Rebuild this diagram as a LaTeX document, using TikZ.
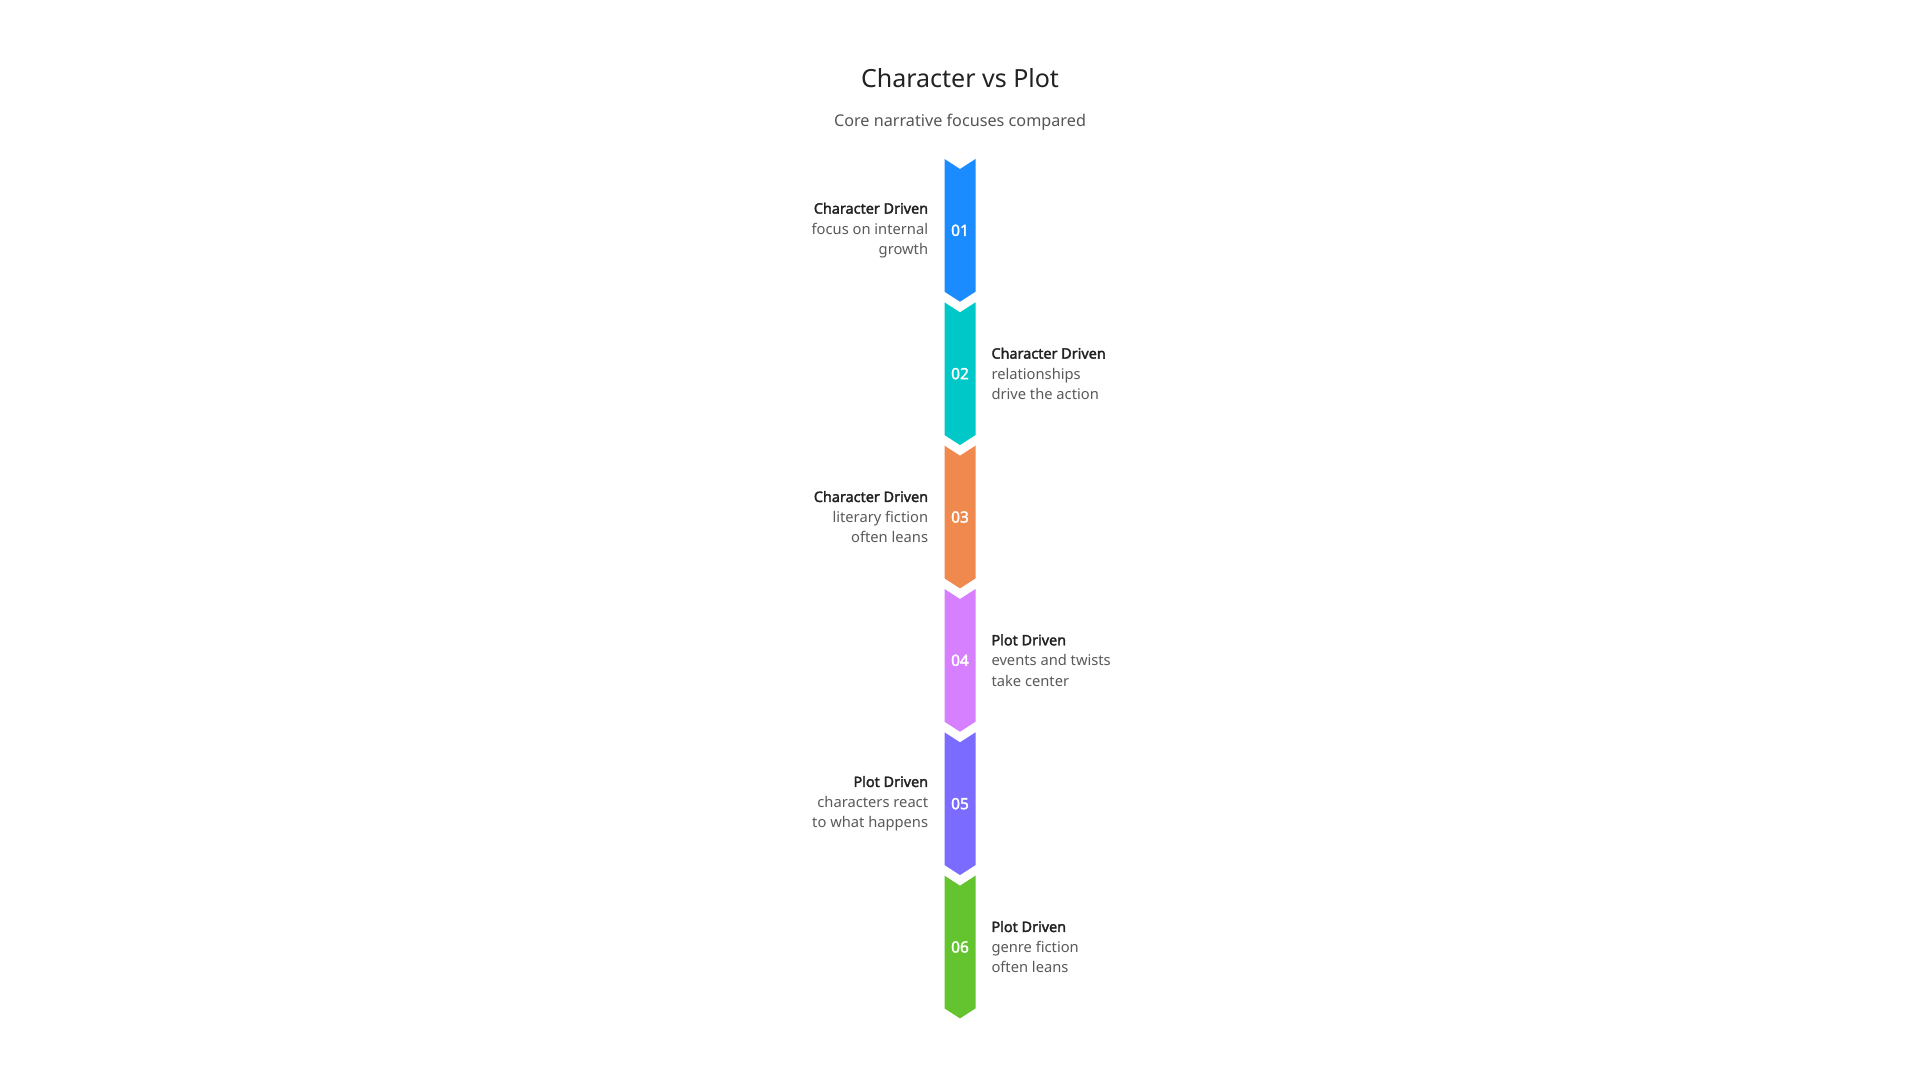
\documentclass[tikz,border=0pt]{standalone}
\usepackage{fontspec}
\setmainfont{Noto Sans}[BoldFont={Noto Sans}, BoldFeatures={FakeBold=2.2}]
\definecolor{cA}{HTML}{1A8CFF}
\definecolor{cB}{HTML}{00C8C8}
\definecolor{cC}{HTML}{F0894E}
\definecolor{cD}{HTML}{D67FFF}
\definecolor{cE}{HTML}{7B6BFF}
\definecolor{cF}{HTML}{63C42F}
\definecolor{titlec}{HTML}{222222}
\definecolor{subc}{HTML}{555555}
\definecolor{headc}{HTML}{222222}
\definecolor{descc}{HTML}{5A5A5A}
\tikzset{
  numtxt/.style={text=white, font=\fontsize{15.5}{16}\selectfont\bfseries, inner sep=0pt},
  lbl/.style={text=descc, font=\fontsize{14.7}{20.4}\selectfont, inner sep=0pt},
  lblL/.style={lbl, anchor=east, align=right},
  lblR/.style={lbl, anchor=west, align=left},
}
\newcommand{\chev}[3]{% #1 top y, #2 colour, #3 name
  \fill[#2] (944.5,#1) -- (960,#1+10) -- (975.5,#1) -- (975.5,#1+132.7) -- (960,#1+142.7) -- (944.5,#1+132.7) -- cycle;
  \coordinate (#3) at (960,#1+71.3);
}
\newcommand{\hd}[1]{{\fontsize{14.4}{20.4}\selectfont\bfseries\color{headc}#1}}
\begin{document}
\begin{tikzpicture}[x=1pt,y=-1pt]
\useasboundingbox (0,0) rectangle (1920,1080);
\fill[white] (0,0) rectangle (1920,1080);
\node[text=titlec, font=\fontsize{25}{30}\selectfont, inner sep=0pt] (title) at (960,78) {Character vs Plot};
\node[text=subc, font=\fontsize{16.2}{20}\selectfont, inner sep=0pt] (sub) at (960,122.5) {Core narrative focuses compared};
\chev{159}{cA}{c1}
\chev{302.33}{cB}{c2}
\chev{445.67}{cC}{c3}
\chev{589}{cD}{c4}
\chev{732.33}{cE}{c5}
\chev{875.67}{cF}{c6}
\node[numtxt] (n1) at (c1) {01};
\node[numtxt] (n2) at (c2) {02};
\node[numtxt] (n3) at (c3) {03};
\node[numtxt] (n4) at (c4) {04};
\node[numtxt] (n5) at (c5) {05};
\node[numtxt] (n6) at (c6) {06};
\node[lblL] (l1) at ([xshift=-31.7pt]c1) {\hd{Character Driven}\\focus on internal\\growth};
\node[lblR] (l2) at ([xshift=31.3pt]c2) {\hd{Character Driven}\\relationships\\drive the action};
\node[lblL] (l3) at ([xshift=-31.7pt]c3) {\hd{Character Driven}\\literary fiction\\often leans};
\node[lblR] (l4) at ([xshift=31.3pt]c4) {\hd{Plot Driven}\\events and twists\\take center};
\node[lblL] (l5) at ([xshift=-31.7pt]c5) {\hd{Plot Driven}\\characters react\\to what happens};
\node[lblR] (l6) at ([xshift=31.3pt]c6) {\hd{Plot Driven}\\genre fiction\\often leans};
\end{tikzpicture}
\end{document}
